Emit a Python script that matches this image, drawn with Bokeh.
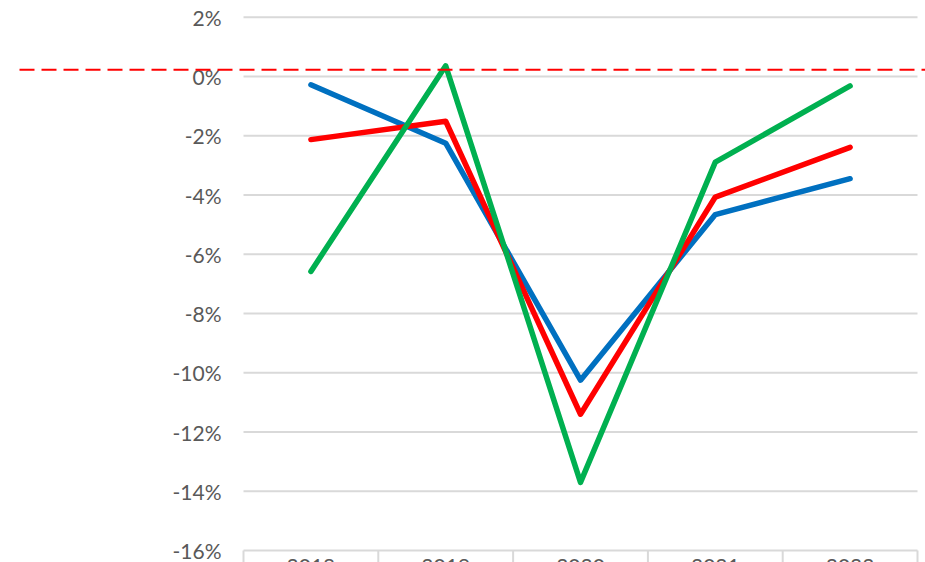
from bokeh.plotting import figure
from bokeh.models import Range1d
from bokeh.core.properties import value
from bokeh.embed import file_html
from bokeh.resources import INLINE

# ---- data ----
years = ["2018", "2019", "2020", "2021", "2022"]
blue_vals = [-0.28, -2.25, -10.25, -4.66, -3.45]
red_vals = [-2.13, -1.51, -11.40, -4.07, -2.39]
green_vals = [-6.58, 0.36, -13.70, -2.89, -0.32]
y_ticks = [2, 0, -2, -4, -6, -8, -10, -12, -14, -16]
y_tick_labels = ["2%", "0%", "-2%", "-4%", "-6%", "-8%", "-10%", "-12%", "-14%", "-16%"]
ref_level = 0.23

FONT = "Lato"
TXT = "#595959"
GRID = "#d9d9d9"

p = figure(width=925, height=562, output_backend="svg", toolbar_location=None,
           x_range=Range1d(-1.8027, 5.0593), y_range=Range1d(-16.405, 2.5654),
           min_border=0, outline_line_color=None)
p.axis.visible = False
p.grid.visible = False
p.background_fill_color = "white"

n = len(years)
xs = [i + 0.5 for i in range(n)]

# horizontal gridlines
p.segment(x0=[0] * len(y_ticks), x1=[n] * len(y_ticks), y0=y_ticks, y1=y_ticks,
          line_color=GRID, line_width=2)

# category axis: boundary ticks
bounds = list(range(n + 1))
ymin = min(y_ticks)
p.segment(x0=bounds, x1=bounds, y0=[ymin] * len(bounds), y1=[ymin - 1] * len(bounds),
          line_color=GRID, line_width=2)

# y tick labels
p.text(x=[-0.163] * len(y_ticks), y=y_ticks, text=y_tick_labels,
       text_align="right", text_baseline="middle",
       text_font=value(FONT), text_font_size="21px", text_color=TXT)

# x labels (cut by the bottom edge, as in the reference)
p.text(x=xs, y=[ymin - 0.27] * n, text=years, text_align="center", text_baseline="top",
       text_font=value(FONT), text_font_size="21px", text_color=TXT)

# series
for vals, col in [(blue_vals, "#0070c0"), (red_vals, "#ff0000"), (green_vals, "#00b050")]:
    p.line(x=xs, y=vals, line_color=col, line_width=5.5,
           line_join="round", line_cap="round")

# red dashed reference line
p.segment(x0=[-1.6617], x1=[5.0593], y0=[ref_level], y1=[ref_level],
          line_color="#ff0000", line_width=2, line_dash="15 7")

open("out.html", "w").write(file_html(p, INLINE))
